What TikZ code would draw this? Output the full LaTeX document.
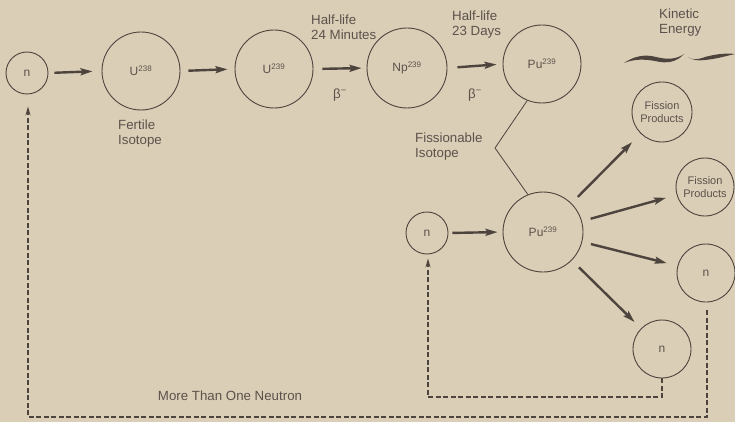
\documentclass[tikz,border=0pt]{standalone}
\usepackage{fontspec}
\setmainfont{Liberation Sans}
\usetikzlibrary{arrows.meta,calc}
\definecolor{bg}{RGB}{218,206,182}
\definecolor{ink}{RGB}{78,68,62}
\definecolor{txt}{RGB}{92,82,76}
\tikzset{
  atom/.style={circle,draw=ink,line width=0.9pt,inner sep=0pt,text=txt,
    font=\fontsize{12}{13}\selectfont},
  fpatom/.style={atom,align=center,font=\fontsize{11}{12.5}\selectfont},
  fat/.style={draw=ink,line width=2.4pt,-{Stealth[length=12pt,width=7pt,inset=2pt]}},
  loop/.style={draw=ink,line width=1.3pt,dash pattern=on 5pt off 2.5pt,
    -{Stealth[length=9pt,width=5pt]}},
  lbl/.style={text=txt,inner sep=0pt,align=left,font=\fontsize{13.3}{14.5}\selectfont},
  thin/.style={draw=ink,line width=0.8pt}
}
\begin{document}
\begin{tikzpicture}[x=1pt,y=-1pt]
\fill[bg] (0,0) rectangle (735,422);
\useasboundingbox (0,0) rectangle (735,422);
% nodes
\node[atom,minimum size=42pt] (n1) at (27,73) {n};
\node[atom,minimum size=78pt] (u238) at (141,71) {U\textsuperscript{238}};
\node[atom,minimum size=78pt] (u239) at (274,69) {U\textsuperscript{239}};
\node[atom,minimum size=80pt] (np) at (407,68) {Np\textsuperscript{239}};
\node[atom,minimum size=78pt] (pu1) at (542,64) {Pu\textsuperscript{239}};
\node[fpatom,minimum size=60pt] (fp1) at (662,112) {Fission\\Products};
\node[fpatom,minimum size=58pt] (fp2) at (705,187) {Fission\\Products};
\node[atom,minimum size=58pt] (nr) at (706,273) {n};
\node[atom,minimum size=58pt] (nb) at (662,349) {n};
\node[atom,minimum size=80pt] (pu2) at (543,232) {Pu\textsuperscript{239}};
\node[atom,minimum size=42pt] (n2) at (427,233) {n};
% labels
\node[lbl,anchor=north west] (fert) at (118,120) {Fertile\\Isotope};
\node[lbl,anchor=north west] (hl1) at (311,15) {Half-life\\24 Minutes};
\node[lbl,anchor=north west] (hl2) at (452,11) {Half-life\\23 Days};
\node[lbl,anchor=north west] (ke) at (659,9) {Kinetic\\Energy};
\node[lbl,anchor=north west] (fiss) at (415,133) {Fissionable\\Isotope};
\node[lbl] (more) at (230,396) {More Than One Neutron};
\node[lbl] (b1) at (340,95) {β\textsuperscript{−}};
\node[lbl] (b2) at (475,95) {β\textsuperscript{−}};
% main arrows
\draw[fat,shorten <=6pt,shorten >=9pt] (n1.east) -- (u238.west);
\draw[fat,shorten <=8pt,shorten >=7pt] (u238.east) -- (u239.west);
\draw[fat,shorten <=9pt,shorten >=5pt] (u239.east) -- (np.west);
\draw[fat,shorten <=10pt,shorten >=6pt] (np.east) -- (pu1.west);
\draw[fat,shorten <=4pt,shorten >=5pt] (n2.east) -- (pu2.west);
\draw[fat,shorten <=9pt,shorten >=12pt] (pu2) -- (fp1);
\draw[fat,shorten <=9pt,shorten >=11pt] (pu2) -- (fp2);
\draw[fat,shorten <=9pt,shorten >=11pt] (pu2) -- (nr);
\draw[fat,shorten <=10pt,shorten >=9pt] (pu2) -- (nb);
% fissionable isotope bracket
\coordinate (kink) at (495,148);
\draw[thin] (pu1.-112) -- (kink) -- (pu2.112);
% neutron loops
\coordinate (bigR) at (707,417);
\coordinate (bigL) at (28,417);
\draw[loop] ($(nr.south)+(1,8)$) -- (bigR) -- (bigL) -- ($(n1.south)+(1,12)$);
\coordinate (inR) at (662,397);
\coordinate (inL) at (428,397);
\draw[loop] (nb.south) -- (inR) -- (inL) -- ($(n2.south)+(1,4)$);
% kinetic energy strokes
\fill[ink] (624,63) .. controls (634,56) and (645,54) .. (656,57)
  .. controls (668,60) and (677,59) .. (684,54)
  .. controls (677,62) and (667,64) .. (655,61)
  .. controls (644,59) and (634,59) .. (624,63) -- cycle;
\fill[ink] (688,57) .. controls (692,60) and (697,60) .. (705,57)
  .. controls (716,54) and (726,53) .. (735,54)
  .. controls (726,56) and (716,59) .. (705,60)
  .. controls (698,61) and (692,60) .. (688,57) -- cycle;
\end{tikzpicture}
\end{document}
